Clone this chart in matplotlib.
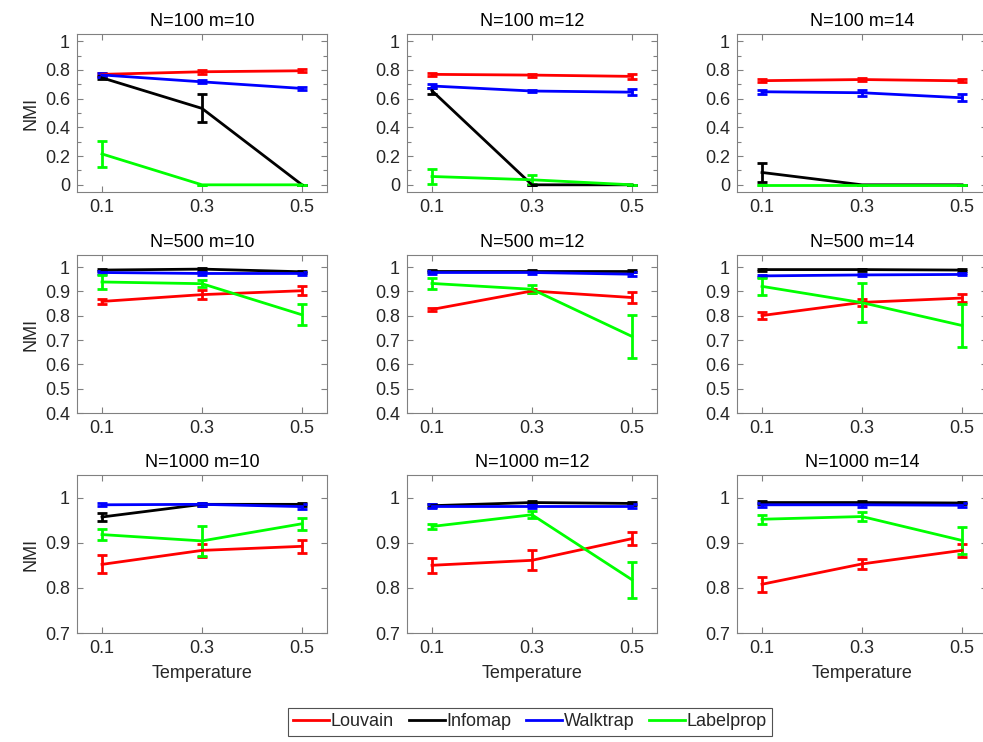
import matplotlib.pyplot as plt
from matplotlib.lines import Line2D

plt.rcParams['font.family'] = ['Liberation Sans', 'DejaVu Sans']

temps = [0.1, 0.3, 0.5]
titles = ["N=100 m=10", "N=100 m=12", "N=100 m=14",
          "N=500 m=10", "N=500 m=12", "N=500 m=14",
          "N=1000 m=10", "N=1000 m=12", "N=1000 m=14"]
methods = ["Louvain", "Infomap", "Walktrap", "Labelprop"]
colours = ["#ff0000", "#000000", "#0000ff", "#00ff00"]

# mean NMI per panel (rows of 3 temperatures)
louvain = [[0.769, 0.787, 0.794], [0.769, 0.764, 0.755], [0.725, 0.733, 0.724],
           [0.859, 0.887, 0.903], [0.826, 0.902, 0.875], [0.801, 0.855, 0.873],
           [0.852, 0.883, 0.892], [0.850, 0.861, 0.909], [0.808, 0.853, 0.883]]
infomap = [[0.745, 0.532, 0.0], [0.655, 0.0, 0.0], [0.086, 0.0, 0.0],
           [0.988, 0.992, 0.981], [0.985, 0.985, 0.985], [0.990, 0.990, 0.988],
           [0.957, 0.985, 0.985], [0.982, 0.989, 0.987], [0.989, 0.989, 0.988]]
walktrap = [[0.765, 0.717, 0.671], [0.688, 0.653, 0.645], [0.648, 0.641, 0.606],
            [0.978, 0.974, 0.974], [0.978, 0.978, 0.971], [0.964, 0.968, 0.970],
            [0.984, 0.985, 0.980], [0.982, 0.982, 0.982], [0.984, 0.984, 0.983]]
labelprop = [[0.215, 0.0, 0.0], [0.058, 0.035, 0.0], [0.0, 0.0, 0.0],
             [0.939, 0.932, 0.804], [0.933, 0.909, 0.715], [0.921, 0.854, 0.760],
             [0.918, 0.904, 0.942], [0.936, 0.962, 0.818], [0.952, 0.958, 0.905]]

# error bar half widths
louvain_err = [[0.01, 0.012, 0.01], [0.012, 0.01, 0.015], [0.012, 0.008, 0.01],
               [0.01, 0.02, 0.018], [0.008, 0.01, 0.023], [0.015, 0.015, 0.015],
               [0.02, 0.015, 0.014], [0.017, 0.022, 0.015], [0.017, 0.012, 0.015]]
infomap_err = [[0.01, 0.097, 0.0], [0.02, 0.0, 0.0], [0.065, 0.0, 0.0],
               [0.005, 0.005, 0.005], [0.005, 0.005, 0.005], [0.004, 0.004, 0.004],
               [0.008, 0.003, 0.004], [0.003, 0.004, 0.004], [0.003, 0.003, 0.003]]
walktrap_err = [[0.015, 0.01, 0.012], [0.012, 0.01, 0.02], [0.015, 0.02, 0.025],
                [0.006, 0.006, 0.006], [0.006, 0.006, 0.008], [0.004, 0.004, 0.004],
                [0.003, 0.003, 0.005], [0.004, 0.004, 0.004], [0.004, 0.004, 0.004]]
labelprop_err = [[0.09, 0.0, 0.0], [0.05, 0.03, 0.0], [0.0, 0.0, 0.0],
                 [0.027, 0.015, 0.044], [0.022, 0.017, 0.09], [0.035, 0.08, 0.09],
                 [0.012, 0.033, 0.013], [0.006, 0.008, 0.04], [0.01, 0.01, 0.03]]

row_ylims = [(-0.05, 1.05), (0.4, 1.05), (0.7, 1.05)]
row_yticks = [[0, 0.2, 0.4, 0.6, 0.8, 1.0],
              [0.4, 0.5, 0.6, 0.7, 0.8, 0.9, 1.0],
              [0.7, 0.8, 0.9, 1.0]]
row_ytick_labels = [["0", "0.2", "0.4", "0.6", "0.8", "1"],
                    ["0.4", "0.5", "0.6", "0.7", "0.8", "0.9", "1"],
                    ["0.7", "0.8", "0.9", "1"]]

W, H = 983, 742
fig = plt.figure(figsize=(W / 100, H / 100), dpi=100)

col_left = [77, 407, 737]
row_top = [34, 255, 475]
ax_w, ax_h = 250, 158

all_means = [louvain, infomap, walktrap, labelprop]
all_errs = [louvain_err, infomap_err, walktrap_err, labelprop_err]
spine_col = "#808080"
text_col = "#262626"

for p in range(9):
    r, c = divmod(p, 3)
    ax = fig.add_axes([col_left[c] / W, 1 - (row_top[r] + ax_h) / H, ax_w / W, ax_h / H])
    for k in range(4):
        ax.errorbar(temps, all_means[k][p], yerr=all_errs[k][p], color=colours[k],
                    lw=2, elinewidth=2, capsize=3.5, capthick=2)
    ax.set_xlim(0.05, 0.55)
    ax.set_ylim(*row_ylims[r])
    ax.set_xticks(temps)
    ax.set_xticklabels(["0.1", "0.3", "0.5"])
    ax.set_yticks(row_yticks[r])
    ax.set_yticklabels(row_ytick_labels[r])
    if r == 0:
        ax.set_yticks([0.1, 0.3, 0.5, 0.7, 0.9], minor=True)
    ax.tick_params(which='both', direction='in', top=True, right=True, color=spine_col,
                   labelcolor=text_col, labelsize=13, length=4, width=0.8, pad=5)
    ax.tick_params(which='minor', length=3)
    for s in ax.spines.values():
        s.set_color(spine_col)
    ax.set_title(titles[p], fontsize=13, pad=6)
    if c == 0:
        ax.set_ylabel("NMI", fontsize=13, color=text_col, labelpad=4)
    if r == 2:
        ax.set_xlabel("Temperature", fontsize=13, color=text_col, labelpad=6)

# legend uses plain lines like the original
handles = [Line2D([], [], color=col, lw=2) for col in colours]
leg = fig.legend(handles, methods, loc='center', bbox_to_anchor=(530 / W, 1 - 722 / H),
                 ncol=4, fontsize=13, frameon=True, fancybox=False, handlelength=2.0,
                 handletextpad=0.1, columnspacing=0.8, borderpad=0.3, borderaxespad=0)
leg.get_frame().set_edgecolor("#262626")
leg.get_frame().set_linewidth(0.8)
for t in leg.get_texts():
    t.set_color(text_col)

fig.savefig("out.png", dpi=100)
